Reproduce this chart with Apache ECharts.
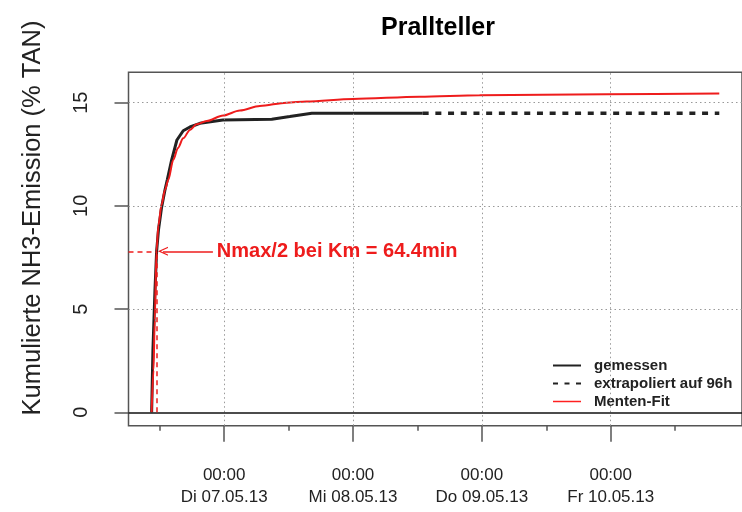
<!DOCTYPE html>
<html>
<head>
<meta charset="utf-8">
<script src="https://cdn.jsdelivr.net/npm/echarts@6.0.0/dist/echarts.min.js"></script>
<style>
  html, body { margin: 0; padding: 0; background: #fff; }
  #chart { width: 742px; height: 512px; }
</style>
</head>
<body>
<div id="chart"></div>
<script>
// Stunden relativ zu Di 07.05.13 00:00
const measuredHours = [-13.51, -13.27, -12.89, -12.58, -12.24, -11.65, -11.03, -10.61, -9.79, -8.80, -7.63, -6.38, -4.52, -0.24, 8.87, 12.22, 16.32, 36.97];
const measuredValues = [0, 3.01, 5.92, 7.81, 8.83, 9.94, 10.77, 11.25, 12.22, 13.19, 13.64, 13.82, 14.00, 14.16, 14.20, 14.33, 14.49, 14.49];

const extrapHours = [36.97, 92.22];
const extrapValues = [14.49, 14.49];

const fitHours = [-13.51, -13.17, -12.93, -12.61, -12.24, -11.68, -11.03, -10.42, -9.49, -8.61, -7.63, -6.38, -5.14, -3.27, -0.19, 2.92, 6.64, 11.61, 15.33, 24.00, 36.41, 47.57, 71.14, 92.22];
const fitValues = [0, 2.04, 4.46, 7.81, 9.07, 10.04, 10.77, 11.25, 12.22, 12.80, 13.27, 13.68, 13.95, 14.11, 14.38, 14.62, 14.84, 15.00, 15.06, 15.18, 15.29, 15.36, 15.41, 15.44];

const yTicks = [0, 5, 10, 15];
const dayTicks = [0, 24, 48, 72];
const dayLabels = ['00:00\nDi 07.05.13', '00:00\nMi 08.05.13', '00:00\nDo 09.05.13', '00:00\nFr 10.05.13'];
const halfDayTicks = [-12, 12, 36, 60, 84];

// Km-Markierung
const kmHour = -12.55;
const halfValue = 7.8;
const arrowTail = -2.1;
const arrowTip = -11.4;
const noteHour = -1.36;
const noteText = 'Nmax/2 bei Km = 64.4min';

const xMin = -17.82, xMax = 96.45;
const yMin = -0.65, yMax = 16.47;

const FONT = 'Liberation Sans, Arial, sans-serif';
const RED = '#ee1c1c';

const zip = (a, b) => a.map((v, i) => [v, b[i]]);

const gridLines = dayTicks.map(v => ({ xAxis: v }))
  .concat(yTicks.filter(v => v !== 0).map(v => ({ yAxis: v })))
  .concat([{ yAxis: 0, lineStyle: { type: 'solid', color: '#111', width: 1.5 } }]);

const chart = echarts.init(document.getElementById('chart'));
chart.setOption({
  animation: false,
  textStyle: { fontFamily: FONT },
  graphic: [
    {
      type: 'text',
      style: { text: 'Prallteller', x: 438, y: 28, align: 'center', verticalAlign: 'middle',
        font: 'bold 25px ' + FONT, fill: '#000' }
    },
    {
      type: 'text',
      x: 33, y: 218, rotation: Math.PI / 2,
      style: { text: 'Kumulierte NH3-Emission (% TAN)', align: 'center', verticalAlign: 'middle',
        font: '25.5px ' + FONT, fill: '#222' }
    }
  ],
  legend: {
    left: 552, top: 358, orient: 'vertical', padding: 0,
    itemWidth: 28, itemHeight: 12, itemGap: 3,
    itemStyle: { opacity: 0 },
    textStyle: { fontFamily: FONT, fontSize: 15, fontWeight: 'bold', color: '#222', padding: [0, 0, 0, 8] },
    data: [
      { name: 'gemessen' },
      { name: 'extrapoliert auf 96h', lineStyle: { type: [5, 6.5] } },
      { name: 'Menten-Fit', lineStyle: { width: 1.5, color: '#ff2020', opacity: 1 } }
    ]
  },
  grid: {
    left: 128.5, top: 72.3, right: 0, bottom: 86.3,
    show: true, borderColor: '#555', borderWidth: 1.5
  },
  xAxis: [
    {
      type: 'value', min: xMin, max: xMax, position: 'bottom',
      axisLine: { show: false, onZero: false },
      axisTick: { customValues: dayTicks, length: 16, lineStyle: { color: '#555', width: 1.5 } },
      axisLabel: {
        customValues: dayTicks, margin: 39, fontSize: 17, lineHeight: 22, color: '#222',
        formatter: v => dayLabels[dayTicks.indexOf(v)] || ''
      },
      splitLine: { show: false }
    },
    {
      type: 'value', min: xMin, max: xMax, position: 'bottom',
      axisLine: { show: false, onZero: false },
      axisTick: { customValues: halfDayTicks, length: 5, lineStyle: { color: '#555', width: 1.5 } },
      axisLabel: { show: false },
      splitLine: { show: false }
    }
  ],
  yAxis: {
    type: 'value', min: yMin, max: yMax,
    axisLine: { show: false, onZero: false },
    axisTick: { customValues: yTicks, length: 14, lineStyle: { color: '#555', width: 1.5 } },
    axisLabel: { customValues: yTicks, rotate: 90, margin: 37, fontSize: 20, color: '#222' },
    splitLine: { show: false }
  },
  series: [
    {
      name: 'gemessen', type: 'line', symbol: 'none', z: 3,
      data: zip(measuredHours, measuredValues),
      lineStyle: { color: '#222', width: 3 },
      itemStyle: { color: '#222' },
      markLine: {
        silent: true, symbol: ['none', 'none'], label: { show: false },
        lineStyle: { color: '#999', type: [1.5, 3], width: 1 },
        data: gridLines
      }
    },
    {
      name: 'extrapoliert auf 96h', type: 'line', symbol: 'none', z: 3,
      data: zip(extrapHours, extrapValues),
      lineStyle: { color: '#222', width: 3.5, type: [6, 6.7] },
      itemStyle: { color: '#222' }
    },
    {
      name: 'Menten-Fit', type: 'line', symbol: 'none', z: 4,
      smooth: 0.3, smoothMonotone: 'x',
      data: zip(fitHours, fitValues),
      lineStyle: { color: RED, width: 2 },
      itemStyle: { color: RED },
      markLine: {
        silent: true, symbol: ['none', 'none'], label: { show: false },
        data: [
          [{ coord: [kmHour, 0], lineStyle: { color: RED, type: [5, 4], width: 1.5 } }, { coord: [kmHour, halfValue] }],
          [{ coord: [xMin, halfValue], lineStyle: { color: RED, type: [5, 4], width: 1.5 } }, { coord: [kmHour, halfValue] }],
          [
            { coord: [arrowTail, halfValue], symbol: 'none', lineStyle: { color: RED, type: 'solid', width: 1.5 } },
            { coord: [arrowTip, halfValue], symbol: 'path://M0,10 L5,0 L10,10 L8.6,10 L5,2.8 L1.4,10 Z', symbolSize: [9, 10] }
          ]
        ]
      },
      markPoint: {
        silent: true, symbol: 'circle', symbolSize: 0,
        data: [{ coord: [noteHour, halfValue] }],
        label: {
          show: true, position: 'right', distance: 0, formatter: noteText,
          color: RED, fontSize: 20, fontWeight: 'bold', fontFamily: FONT
        }
      }
    }
  ]
});
</script>
</body>
</html>
